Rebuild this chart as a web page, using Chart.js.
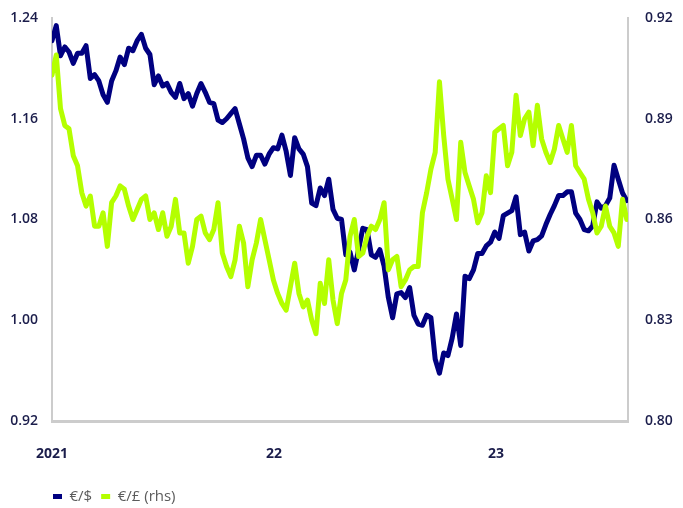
<!DOCTYPE html>
<html lang="en">
<head>
  <meta charset="UTF-8">
  <title>EUR exchange rates</title>
  <script src="https://cdn.jsdelivr.net/npm/chart.js"></script>
  <style>
    body {
      margin: 0;
      background: #fff;
    }
    #fxChart {
      display: block;
    }
  </style>
</head>
<body>
  <canvas id="fxChart" width="683" height="508"></canvas>

  <script>
    // weekly observations, first one on 1 Jan 2021
    const weekStep = 7;
    const seriesNames = ['€/$', '€/£ (rhs)'];

    const eurUsd = [
      1.222, 1.234, 1.210, 1.217, 1.213, 1.204, 1.212, 1.212, 1.218, 1.192,
      1.195, 1.190, 1.179, 1.173, 1.190, 1.198, 1.209, 1.203, 1.216, 1.214,
      1.222, 1.227, 1.216, 1.211, 1.187, 1.194, 1.186, 1.188, 1.181, 1.177,
      1.188, 1.176, 1.180, 1.170, 1.180, 1.188, 1.181, 1.173, 1.172, 1.159,
      1.157, 1.160, 1.164, 1.168, 1.156, 1.144, 1.129, 1.122, 1.131, 1.131,
      1.124, 1.132, 1.137, 1.136, 1.147, 1.134, 1.115, 1.145, 1.136, 1.132,
      1.122, 1.093, 1.091, 1.105, 1.099, 1.112, 1.088, 1.081, 1.080, 1.052,
      1.054, 1.040, 1.056, 1.073, 1.072, 1.052, 1.050, 1.056, 1.043, 1.018,
      1.002, 1.021, 1.022, 1.018, 1.026, 1.004, 0.997, 0.996, 1.004, 1.002,
      0.969, 0.958, 0.974, 0.972, 0.986, 1.005, 0.980, 1.035, 1.033, 1.040,
      1.053, 1.053, 1.059, 1.062, 1.070, 1.065, 1.083, 1.085, 1.087, 1.098,
      1.068, 1.070, 1.055, 1.063, 1.064, 1.067, 1.076, 1.084, 1.091, 1.099,
      1.099, 1.102, 1.102, 1.085, 1.080, 1.072, 1.071, 1.075, 1.094, 1.089,
      1.091, 1.097, 1.123, 1.112, 1.101, 1.095
    ];

    const eurGbp = [
      0.903, 0.909, 0.893, 0.888, 0.887, 0.879, 0.876, 0.868, 0.864, 0.867,
      0.858, 0.858, 0.862, 0.852, 0.865, 0.867, 0.870, 0.869, 0.864, 0.860,
      0.863, 0.866, 0.867, 0.860, 0.862, 0.857, 0.862, 0.855, 0.858, 0.866,
      0.856, 0.856, 0.847, 0.852, 0.860, 0.861, 0.856, 0.854, 0.857, 0.865,
      0.850, 0.846, 0.843, 0.848, 0.858, 0.853, 0.840, 0.848, 0.853, 0.860,
      0.854, 0.848, 0.842, 0.838, 0.835, 0.833, 0.840, 0.847, 0.838, 0.834,
      0.836, 0.830, 0.826, 0.841, 0.835, 0.848, 0.836, 0.829, 0.838, 0.842,
      0.855, 0.860, 0.849, 0.850, 0.855, 0.858, 0.857, 0.860, 0.865, 0.845,
      0.848, 0.849, 0.840, 0.842, 0.845, 0.846, 0.846, 0.862, 0.868, 0.875,
      0.880, 0.901, 0.885, 0.872, 0.866, 0.860, 0.883, 0.874, 0.870, 0.866,
      0.859, 0.862, 0.873, 0.868, 0.886, 0.887, 0.888, 0.876, 0.880, 0.897,
      0.885, 0.890, 0.892, 0.882, 0.894, 0.884, 0.880, 0.877, 0.881, 0.888,
      0.884, 0.880, 0.888, 0.876, 0.874, 0.872, 0.866, 0.862, 0.856, 0.858,
      0.864, 0.858, 0.856, 0.852, 0.866, 0.860
    ];

    // x axis in days since 1 Jan 2021
    const xTickDays = [0, 365, 730];
    const xTickLabels = ['2021', '22', '23'];
    const xMaxDay = 947;
    const leftTicks = [0.92, 1.00, 1.08, 1.16, 1.24];
    const rightTicks = [0.80, 0.83, 0.86, 0.89, 0.92];

    const navy = '#000080';
    const lime = '#b4ff00';
    const textColor = '#1b1d4b';
    const axisColor = '#cccccc';

    const toPoints = values => values.map((v, i) => ({ x: i * weekStep, y: v }));

    // line the legend up with the left edge of the plot
    const legendShift = {
      id: 'legendShift',
      afterLayout(chart) {
        if (chart.legend) {
          chart.legend.left = chart.chartArea.left - 8;
        }
      }
    };

    const ctx = document.getElementById('fxChart').getContext('2d');

    new Chart(ctx, {
      type: 'line',
      data: {
        datasets: [
          {
            label: seriesNames[0],
            data: toPoints(eurUsd),
            yAxisID: 'yLeft',
            borderColor: navy,
            backgroundColor: navy,
            borderWidth: 5,
            borderCapStyle: 'round',
            borderJoinStyle: 'round',
            pointRadius: 0,
            tension: 0,
            order: 1
          },
          {
            label: seriesNames[1],
            data: toPoints(eurGbp),
            yAxisID: 'yRight',
            borderColor: lime,
            backgroundColor: lime,
            borderWidth: 5,
            borderCapStyle: 'round',
            borderJoinStyle: 'round',
            pointRadius: 0,
            tension: 0,
            order: 0
          }
        ]
      },
      options: {
        responsive: false,
        animation: false,
        layout: {
          padding: { left: 0, right: 0, top: 18, bottom: -6 }
        },
        plugins: {
          tooltip: { enabled: false },
          legend: {
            position: 'bottom',
            align: 'start',
            labels: {
              usePointStyle: true,
              pointStyle: 'line',
              pointStyleWidth: 9,
              padding: 9,
              color: '#5b5b5b',
              font: { family: 'Open Sans', size: 15 },
              sort: (a, b) => a.datasetIndex - b.datasetIndex
            }
          }
        },
        scales: {
          x: {
            type: 'linear',
            min: 0,
            max: xMaxDay,
            grid: { display: false },
            border: { display: true, color: axisColor, width: 3 },
            afterBuildTicks: scale => {
              scale.ticks = xTickDays.map(v => ({ value: v }));
            },
            afterFit: scale => {
              scale.height = 59;
            },
            ticks: {
              autoSkip: false,
              maxRotation: 0,
              padding: 17,
              color: textColor,
              font: { family: 'Open Sans', size: 14, weight: 'bold' },
              callback: (value, index) => xTickLabels[index]
            }
          },
          yLeft: {
            type: 'linear',
            position: 'left',
            min: 0.92,
            max: 1.24,
            grid: { display: false },
            border: { display: true, color: axisColor, width: 2 },
            afterBuildTicks: scale => {
              scale.ticks = leftTicks.map(v => ({ value: v }));
            },
            afterFit: scale => {
              scale.width = 52;
            },
            ticks: {
              padding: 6,
              color: textColor,
              font: { family: 'Open Sans', size: 14, weight: '600' },
              callback: value => value.toFixed(2)
            }
          },
          yRight: {
            type: 'linear',
            position: 'right',
            min: 0.80,
            max: 0.92,
            grid: { display: false },
            border: { display: true, color: axisColor, width: 2 },
            afterBuildTicks: scale => {
              scale.ticks = rightTicks.map(v => ({ value: v }));
            },
            afterFit: scale => {
              scale.width = 55;
            },
            ticks: {
              padding: 9,
              color: textColor,
              font: { family: 'Open Sans', size: 14, weight: '600' },
              callback: value => value.toFixed(2)
            }
          }
        }
      },
      plugins: [legendShift]
    });
  </script>
</body>
</html>
